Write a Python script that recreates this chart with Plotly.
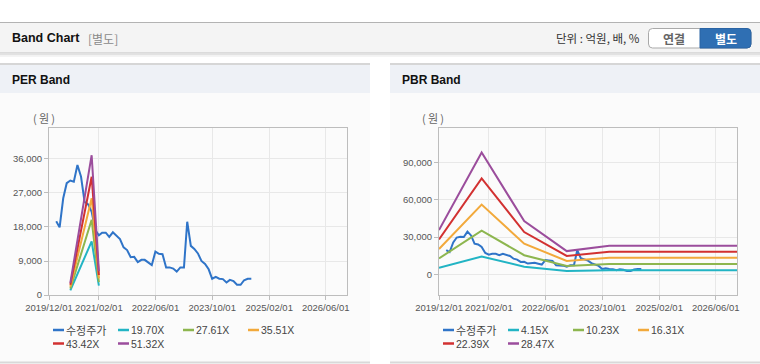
import plotly.graph_objects as go
import pandas as pd

W, H = 760, 364

# ---------------- data ----------------
price_dates = pd.date_range("2020-02-01", "2024-09-01", freq="MS")
price = [19500, 17900, 25600, 29600, 30300, 30000, 34400, 31300, 24700, 24000,
         22000, 17200, 15800, 16500, 16500, 15400, 16600, 15700, 14800, 12600,
         11900, 10000, 10100, 8700, 9300, 9300, 8600, 7900, 11500, 10900,
         10800, 7300, 7300, 7000, 6200, 7300, 7300, 19400, 13000, 12200,
         11000, 9000, 8200, 6800, 4300, 4800, 4300, 4200, 3300, 4000,
         3700, 2700, 2700, 3900, 4300, 4300]

per_dates = ["2020-06-01", "2020-12-01", "2021-02-01"]
per_names = ["19.70X", "27.61X", "35.51X", "43.42X", "51.32X"]
per_1970 = [1200, 14200, 2500]
per_2761 = [1700, 19900, 3400]
per_3551 = [2200, 25600, 4400]
per_4342 = [2700, 31300, 5300]
per_5132 = [3200, 37000, 6300]

pbr_dates = ["2019-12-01", "2020-12-01", "2021-12-01", "2022-12-01", "2023-12-01", "2026-12-01"]
pbr_names = ["4.15X", "10.23X", "16.31X", "22.39X", "28.47X"]
pbr_415 = [5200, 14300, 6200, 2800, 3400, 3400]
pbr_1023 = [12800, 35200, 15400, 6800, 8300, 8300]
pbr_1631 = [20400, 56100, 24700, 10800, 13300, 13300]
pbr_2239 = [28000, 77100, 34000, 14800, 18200, 18200]
pbr_2847 = [35600, 98000, 42800, 18700, 23000, 23000]

x_tickvals = ["2019-12-01", "2021-02-01", "2022-06-01", "2023-10-01", "2025-02-01", "2026-06-01"]
x_ticktext = ["2019/12/01", "2021/02/01", "2022/06/01", "2023/10/01", "2025/02/01", "2026/06/01"]
per_yticks = [0, 9000, 18000, 27000, 36000]
pbr_yticks = [0, 30000, 60000, 90000]

colors = ["#2f74c8", "#22b4c4", "#8db64f", "#f2a93b", "#d23131", "#9b4d9c"]
price_name = "수정주가"

# ---------------- figure ----------------
def X(px):
    return px / W

def Y(py):
    return 1 - py / H

KR = "Noto Sans CJK KR, Liberation Sans, sans-serif"
LAT = "Liberation Sans, Noto Sans CJK KR, sans-serif"

fig = go.Figure()

fig.add_trace(go.Scatter(x=price_dates, y=price, mode="lines", name=price_name,
                         line=dict(color=colors[0], width=2), xaxis="x", yaxis="y"))
for nm, vals, c in zip(per_names, [per_1970, per_2761, per_3551, per_4342, per_5132], colors[1:]):
    fig.add_trace(go.Scatter(x=per_dates, y=vals, mode="lines", name=nm,
                             line=dict(color=c, width=2), xaxis="x", yaxis="y"))

fig.add_trace(go.Scatter(x=price_dates, y=price, mode="lines", name=price_name,
                         line=dict(color=colors[0], width=2), xaxis="x2", yaxis="y2"))
for nm, vals, c in zip(pbr_names, [pbr_415, pbr_1023, pbr_1631, pbr_2239, pbr_2847], colors[1:]):
    fig.add_trace(go.Scatter(x=pbr_dates, y=vals, mode="lines", name=nm,
                             line=dict(color=c, width=2), xaxis="x2", yaxis="y2"))

tickfont = dict(family="Liberation Sans, Arial, sans-serif", size=9.5, color="#555555")
axcommon = dict(showline=True, mirror=True, linecolor="#bdbdbd", linewidth=1,
                gridcolor="#e8e8e8", gridwidth=1, ticks="outside", ticklen=4,
                tickcolor="#bdbdbd", tickfont=tickfont, zeroline=False, fixedrange=True,
                automargin=False)

xr = ["2019-12-01", "2026-12-01"]
fig.update_layout(
    xaxis=dict(domain=[X(49), X(347)], anchor="y", type="date", range=xr, tickangle=0,
               tickmode="array", tickvals=x_tickvals, ticktext=x_ticktext, **axcommon),
    yaxis=dict(domain=[Y(295), Y(128)], anchor="x", range=[0, 44200],
               tickmode="array", tickvals=per_yticks,
               ticktext=[f"{v:,}" for v in per_yticks], **axcommon),
    xaxis2=dict(domain=[X(439), X(737)], anchor="y2", type="date", range=xr, tickangle=0,
                tickmode="array", tickvals=x_tickvals, ticktext=x_ticktext, **axcommon),
    yaxis2=dict(domain=[Y(295), Y(128)], anchor="x2", range=[-16600, 117700],
                tickmode="array", tickvals=pbr_yticks,
                ticktext=[f"{v:,}" for v in pbr_yticks], **axcommon),
)

shapes = []
ann = []

def rect(x0, y0, x1, y1, fill, line_color=None, lw=0, layer="below"):
    shapes.append(dict(type="rect", xref="paper", yref="paper",
                       x0=X(x0), x1=X(x1), y0=Y(y1), y1=Y(y0),
                       fillcolor=fill, layer=layer,
                       line=dict(color=line_color or fill, width=lw)))

def hline(x0, x1, y, color, w=1, layer="below"):
    shapes.append(dict(type="line", xref="paper", yref="paper",
                       x0=X(x0), x1=X(x1), y0=Y(y), y1=Y(y),
                       line=dict(color=color, width=w), layer=layer))

def text(x, y, s, size=12, color="#222", bold=False, xanchor="left", family=None):
    if bold:
        s = f"<b>{s}</b>"
    ann.append(dict(x=X(x), y=Y(y), xref="paper", yref="paper", text=s,
                    showarrow=False, xanchor=xanchor, yanchor="middle",
                    xshift=-1 if xanchor == "left" else 0,
                    font=dict(size=size, color=color, family=family or LAT)))

# top header bar
rect(0, 22, 760, 53, "#f4f4f4")
hline(0, 760, 22.5, "#b3b3b3", 1)
hline(0, 760, 53, "#c2c2c2", 1)
hline(0, 760, 54.5, "#e2e2e2", 1.5)
hline(0, 760, 56, "#f1f1f1", 1.5)
text(11, 38.5, "Band Chart", size=12.5, color="#111", bold=True)
text(87, 38.5, "[별도]", size=12, color="#8a8a8a", family=KR)
text(642, 38.5, "단위 : 억원, 배, %", size=11.5, color="#333", xanchor="right", family=KR)

# buttons
def rrect_path(x0, y0, x1, y1, r):
    return (f"M {X(x0+r)} {Y(y0)} L {X(x1-r)} {Y(y0)} Q {X(x1)} {Y(y0)} {X(x1)} {Y(y0+r)} "
            f"L {X(x1)} {Y(y1-r)} Q {X(x1)} {Y(y1)} {X(x1-r)} {Y(y1)} "
            f"L {X(x0+r)} {Y(y1)} Q {X(x0)} {Y(y1)} {X(x0)} {Y(y1-r)} "
            f"L {X(x0)} {Y(y0+r)} Q {X(x0)} {Y(y0)} {X(x0+r)} {Y(y0)} Z")

shapes.append(dict(type="path", xref="paper", yref="paper", path=rrect_path(648.5, 28.5, 751, 48, 4),
                   fillcolor="#ffffff", line=dict(color="#a9a9a9", width=1), layer="above"))
shapes.append(dict(type="path", xref="paper", yref="paper",
                   path=(f"M {X(700)} {Y(28.5)} L {X(747)} {Y(28.5)} Q {X(751)} {Y(28.5)} {X(751)} {Y(32.5)} "
                         f"L {X(751)} {Y(44)} Q {X(751)} {Y(48)} {X(747)} {Y(48)} L {X(700)} {Y(48)} Z"),
                   fillcolor="#2f6fb3", line=dict(color="#2a64a4", width=1), layer="above"))
text(674, 38.5, "연결", size=12, color="#666", bold=True, xanchor="center", family=KR)
text(725.5, 38.5, "별도", size=12, color="#ffffff", bold=True, xanchor="center", family=KR)

# panels
for (px0, px1, title) in [(0, 370, "PER Band"), (390, 760, "PBR Band")]:
    rect(px0, 64, px1, 362, "#fbfbfb")
    rect(px0, 64, px1, 93, "#eef1f6")
    hline(px0, px1, 64, "#d6d6d6", 2)
    hline(px0, px1, 362.5, "#d9d9d9", 2)
    text(px0 + 11, 80, title, size=12, color="#111", bold=True)

text(44, 118, "(\u2009원\u2009)", size=11, color="#666", xanchor="center", family=KR)
text(433, 118, "(\u2009원\u2009)", size=11, color="#666", xanchor="center", family=KR)

# legends (manual)
leg_names_per = [price_name] + per_names
leg_names_pbr = [price_name] + pbr_names
for base, names in [(53, leg_names_per), (443, leg_names_pbr)]:
    for i, (nm, c) in enumerate(zip(names, colors)):
        row, col = divmod(i, 4)
        lx = base + col * 65
        ly = 330 + row * 13.5
        hline(lx, lx + 11, ly, c, 2.5, layer="above")
        if nm == price_name:
            text(lx + 12, ly, nm, size=11, color="#444", family=KR)
        else:
            text(lx + 12, ly, nm, size=10.5, color="#444")

fig.update_layout(
    width=W, height=H, margin=dict(l=0, r=0, t=0, b=0, autoexpand=False),
    paper_bgcolor="#ffffff", plot_bgcolor="#ffffff",
    showlegend=False, shapes=shapes, annotations=ann,
    font=dict(family=LAT),
)

fig.write_html("out.html", config={"displayModeBar": False},
               post_script="document.body.style.margin='0';document.body.style.overflow='hidden';")
